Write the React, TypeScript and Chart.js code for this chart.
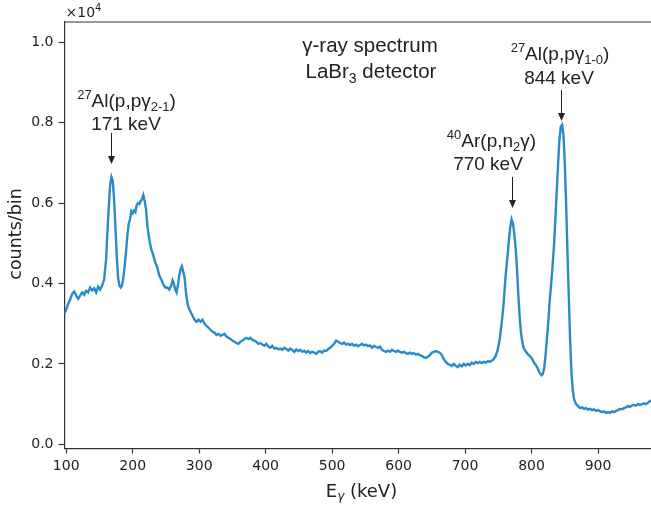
import React, { useEffect, useRef } from "react";
import { Chart, registerables } from "chart.js";

Chart.register(...registerables);

// Spectrum points: [E_gamma (keV), counts/bin (x10^4)]
const spectrum: [number, number][] = [
  [97, 0.325], [100, 0.335], [103, 0.35], [106, 0.36], [109, 0.375], [112, 0.38], [115, 0.37], [118, 0.362],
  [121, 0.37], [124, 0.378], [127, 0.372], [130, 0.382], [133, 0.378], [136, 0.39], [139, 0.383], [142, 0.388],
  [145, 0.378], [148, 0.392], [151, 0.385], [154, 0.395], [157, 0.41], [160, 0.46], [162, 0.53], [164, 0.59],
  [166, 0.645], [168, 0.665], [170, 0.655], [172, 0.61], [174, 0.54], [176, 0.47], [178, 0.415], [180, 0.395],
  [182, 0.39], [184, 0.395], [186, 0.415], [188, 0.445], [190, 0.48], [192, 0.52], [194, 0.548], [196, 0.56],
  [198, 0.58], [200, 0.575], [202, 0.582], [204, 0.578], [206, 0.595], [208, 0.6], [210, 0.598], [212, 0.605],
  [214, 0.61], [216, 0.62], [218, 0.605], [220, 0.585], [222, 0.545], [224, 0.52], [226, 0.5], [228, 0.485],
  [231, 0.47], [234, 0.452], [237, 0.44], [240, 0.42], [243, 0.41], [246, 0.398], [249, 0.39], [252, 0.39],
  [255, 0.385], [258, 0.395], [260, 0.408], [262, 0.4], [264, 0.385], [266, 0.378], [268, 0.395], [270, 0.42],
  [272, 0.435], [274, 0.443], [276, 0.43], [278, 0.415], [280, 0.38], [282, 0.355], [284, 0.34], [287, 0.33],
  [290, 0.32], [293, 0.31], [296, 0.305], [299, 0.31], [302, 0.305], [305, 0.31], [308, 0.3], [311, 0.295],
  [314, 0.29], [317, 0.285], [320, 0.28], [323, 0.278], [326, 0.272], [329, 0.275], [332, 0.27], [335, 0.272],
  [338, 0.275], [341, 0.268], [344, 0.265], [347, 0.262], [350, 0.258], [353, 0.255], [356, 0.252], [359, 0.25],
  [362, 0.255], [365, 0.258], [368, 0.262], [371, 0.265], [374, 0.262], [377, 0.265], [380, 0.26], [383, 0.258],
  [386, 0.255], [389, 0.25], [392, 0.252], [395, 0.248], [398, 0.245], [401, 0.25], [404, 0.243], [407, 0.24],
  [410, 0.245], [413, 0.238], [416, 0.24], [419, 0.236], [422, 0.238], [425, 0.235], [428, 0.24], [431, 0.237],
  [434, 0.233], [437, 0.238], [440, 0.235], [443, 0.23], [446, 0.236], [449, 0.232], [452, 0.235], [455, 0.23],
  [458, 0.233], [461, 0.228], [464, 0.232], [467, 0.227], [470, 0.23], [473, 0.228], [476, 0.225], [479, 0.23],
  [482, 0.232], [485, 0.228], [488, 0.233], [491, 0.232], [494, 0.237], [497, 0.24], [500, 0.245], [503, 0.25],
  [506, 0.258], [509, 0.255], [512, 0.252], [515, 0.25], [518, 0.253], [521, 0.248], [524, 0.25], [527, 0.247],
  [530, 0.25], [533, 0.245], [536, 0.248], [539, 0.244], [542, 0.247], [545, 0.25], [548, 0.246], [551, 0.248],
  [554, 0.244], [557, 0.246], [560, 0.24], [563, 0.245], [566, 0.242], [569, 0.24], [572, 0.243], [575, 0.235],
  [578, 0.232], [581, 0.23], [584, 0.233], [587, 0.23], [590, 0.235], [593, 0.232], [596, 0.23], [599, 0.233],
  [602, 0.23], [605, 0.228], [608, 0.23], [611, 0.227], [614, 0.225], [617, 0.228], [620, 0.225], [623, 0.227],
  [626, 0.223], [629, 0.225], [632, 0.222], [635, 0.22], [638, 0.217], [641, 0.215], [644, 0.218], [647, 0.222],
  [650, 0.228], [653, 0.23], [656, 0.232], [659, 0.23], [662, 0.228], [665, 0.222], [668, 0.212], [671, 0.205],
  [674, 0.2], [677, 0.198], [680, 0.195], [683, 0.2], [686, 0.195], [689, 0.192], [692, 0.198], [695, 0.194],
  [698, 0.2], [701, 0.196], [704, 0.2], [707, 0.197], [710, 0.203], [713, 0.2], [716, 0.205], [719, 0.202],
  [722, 0.205], [725, 0.202], [728, 0.205], [731, 0.203], [734, 0.207], [737, 0.205], [740, 0.208], [743, 0.212],
  [746, 0.22], [749, 0.235], [752, 0.26], [755, 0.3], [758, 0.35], [761, 0.42], [764, 0.47], [766, 0.51],
  [768, 0.54], [770, 0.56], [772, 0.55], [774, 0.525], [776, 0.49], [778, 0.44], [780, 0.375], [782, 0.32],
  [784, 0.28], [786, 0.255], [788, 0.24], [791, 0.232], [794, 0.225], [797, 0.22], [800, 0.215], [803, 0.205],
  [806, 0.198], [809, 0.19], [812, 0.178], [815, 0.172], [817, 0.175], [819, 0.19], [821, 0.22], [823, 0.26],
  [825, 0.3], [827, 0.35], [829, 0.39], [831, 0.43], [834, 0.5], [837, 0.6], [840, 0.7], [842, 0.76],
  [844, 0.79], [846, 0.795], [848, 0.77], [850, 0.7], [852, 0.6], [854, 0.48], [856, 0.37], [858, 0.26],
  [860, 0.18], [862, 0.135], [864, 0.112], [867, 0.1], [870, 0.095], [873, 0.09], [876, 0.092], [879, 0.088],
  [882, 0.09], [885, 0.086], [888, 0.088], [891, 0.085], [894, 0.087], [897, 0.083], [900, 0.085], [903, 0.082],
  [906, 0.08], [909, 0.082], [912, 0.078], [915, 0.08], [918, 0.078], [921, 0.082], [924, 0.08], [927, 0.083],
  [930, 0.085], [933, 0.088], [936, 0.087], [939, 0.09], [942, 0.092], [945, 0.095], [948, 0.093], [951, 0.097],
  [954, 0.098], [957, 0.096], [960, 0.1], [963, 0.098], [966, 0.1], [969, 0.102], [972, 0.1], [975, 0.103],
  [978, 0.107], [981, 0.11],
];

const xTicks = [100, 200, 300, 400, 500, 600, 700, 800, 900];
const yTicks = [0.0, 0.2, 0.4, 0.6, 0.8, 1.0];

// Energies (keV) the annotation arrows point at: 171, 770, 844 keV lines
const arrowEnergies = [168, 770, 845];

const LINE_COLOR = "#2a8bc6";
const AXIS_COLOR = "#333333";
const TICK_FONT = '"DejaVu Sans", sans-serif';
const ANN_FONT = '"Liberation Sans", Arial, Helvetica, sans-serif';

type Part = { t: string; m?: "sup" | "sub" };

function drawRich(ctx: CanvasRenderingContext2D, parts: Part[], cx: number, baseline: number, size: number, family: string) {
  const small = Math.round(size * 0.7);
  let total = 0;
  const widths: number[] = [];
  for (const p of parts) {
    ctx.font = `${p.m ? small : size}px ${family}`;
    const w = ctx.measureText(p.t).width;
    widths.push(w);
    total += w;
  }
  let x = cx - total / 2;
  ctx.textAlign = "left";
  ctx.textBaseline = "alphabetic";
  parts.forEach((p, i) => {
    ctx.font = `${p.m ? small : size}px ${family}`;
    let y = baseline;
    if (p.m === "sup") y = baseline - size * 0.4;
    if (p.m === "sub") y = baseline + size * 0.22;
    ctx.fillText(p.t, x, y);
    x += widths[i];
  });
}

function drawArrow(ctx: CanvasRenderingContext2D, x: number, y1: number, y2: number) {
  ctx.save();
  ctx.strokeStyle = "#222";
  ctx.fillStyle = "#222";
  ctx.lineWidth = 1;
  ctx.beginPath();
  ctx.moveTo(x, y1);
  ctx.lineTo(x, y2 - 7);
  ctx.stroke();
  ctx.beginPath();
  ctx.moveTo(x - 3.5, y2 - 8);
  ctx.lineTo(x + 3.5, y2 - 8);
  ctx.lineTo(x, y2);
  ctx.closePath();
  ctx.fill();
  ctx.restore();
}

const textPlugin = {
  id: "texts",
  afterDraw(chart: any) {
    const ctx: CanvasRenderingContext2D = chart.ctx;
    const area = chart.chartArea;
    const xs = chart.scales.x;
    ctx.save();
    // top spine
    ctx.strokeStyle = AXIS_COLOR;
    ctx.lineWidth = 1.2;
    ctx.beginPath();
    ctx.moveTo(area.left, area.top + 0.5);
    ctx.lineTo(area.right, area.top + 0.5);
    ctx.stroke();

    ctx.fillStyle = "#222";
    // offset text
    drawRich(ctx, [{ t: "\u00d710" }, { t: "4", m: "sup" }], 83.5, 17, 14, TICK_FONT);

    // title
    drawRich(ctx, [{ t: "\u03b3-ray spectrum" }], 370, 52, 20.5, ANN_FONT);
    drawRich(ctx, [{ t: "LaBr" }, { t: "3", m: "sub" }, { t: " detector" }], 371, 78, 20.5, ANN_FONT);

    // 171 keV
    drawRich(ctx, [{ t: "27", m: "sup" }, { t: "Al(p,p\u03b3" }, { t: "2-1", m: "sub" }, { t: ")" }], 126.5, 107, 19, ANN_FONT);
    drawRich(ctx, [{ t: "171 keV" }], 126, 130, 19, ANN_FONT);
    // 770 keV
    drawRich(ctx, [{ t: "40", m: "sup" }, { t: "Ar(p,n" }, { t: "2", m: "sub" }, { t: "\u03b3)" }], 491.5, 147, 19, ANN_FONT);
    drawRich(ctx, [{ t: "770 keV" }], 488, 170, 19, ANN_FONT);
    // 844 keV
    drawRich(ctx, [{ t: "27", m: "sup" }, { t: "Al(p,p\u03b3" }, { t: "1-0", m: "sub" }, { t: ")" }], 560, 60, 19, ANN_FONT);
    drawRich(ctx, [{ t: "844 keV" }], 559, 84, 19, ANN_FONT);

    // arrows
    const arrowSpans = [
      [133, 164],
      [177, 208],
      [90, 121],
    ];
    arrowEnergies.forEach((e, i) => {
      const px = Math.round(xs.getPixelForValue(e)) + 0.5;
      drawArrow(ctx, px, arrowSpans[i][0], arrowSpans[i][1]);
    });

    // y axis title
    ctx.fillStyle = "#222";
    ctx.save();
    ctx.translate(16.5, 234);
    ctx.rotate(-Math.PI / 2);
    ctx.font = `17.5px ${TICK_FONT}`;
    ctx.textAlign = "center";
    ctx.textBaseline = "middle";
    ctx.fillText("counts/bin", 0, 0);
    ctx.restore();

    // x title E_gamma (keV)
    const fs = 18;
    ctx.font = `${fs}px ${TICK_FONT}`;
    const wE = ctx.measureText("E").width;
    const wRest = ctx.measureText(" (keV)").width;
    ctx.font = `italic 12px ${TICK_FONT}`;
    const wG = ctx.measureText("\u03b3").width;
    const total = wE + wG + wRest;
    let x = 361.5 - total / 2;
    const base = 497;
    ctx.textAlign = "left";
    ctx.textBaseline = "alphabetic";
    ctx.font = `${fs}px ${TICK_FONT}`;
    ctx.fillText("E", x, base);
    x += wE;
    ctx.font = `italic 12px ${TICK_FONT}`;
    ctx.fillText("\u03b3", x, base + 3);
    x += wG;
    ctx.font = `${fs}px ${TICK_FONT}`;
    ctx.fillText(" (keV)", x, base);
    ctx.restore();
  },
};

export default function App() {
  const ref = useRef<HTMLCanvasElement | null>(null);
  useEffect(() => {
    if (!ref.current) return;
    const chart = new Chart(ref.current, {
      type: "line",
      data: {
        datasets: [
          {
            data: spectrum.map(([e, c]) => ({ x: e, y: c })),
            borderColor: LINE_COLOR,
            borderWidth: 2.4,
            pointRadius: 0,
            tension: 0,
            fill: false,
          },
        ],
      },
      options: {
        responsive: false,
        animation: false,
        devicePixelRatio: 1,
        layout: { padding: { top: 21.5, right: 0, left: 0, bottom: 0 } },
        plugins: { legend: { display: false }, tooltip: { enabled: false } },
        scales: {
          x: {
            type: "linear",
            min: 97.4,
            max: 979.7,
            afterBuildTicks: (s: any) => {
              s.ticks = xTicks.map((v) => ({ value: v }));
            },
            afterFit: (s: any) => {
              s.height = 56.5;
            },
            ticks: {
              font: { family: TICK_FONT, size: 14 },
              color: "#222",
              padding: 4,
              maxRotation: 0,
              autoSkip: false,
              callback: (v: any) => String(v),
            },
            grid: { drawOnChartArea: false, drawTicks: true, tickLength: 5, color: AXIS_COLOR, tickWidth: 1.2 },
            border: { display: true, color: AXIS_COLOR, width: 1.2 },
          },
          y: {
            type: "linear",
            min: -0.0105,
            max: 1.052,
            afterBuildTicks: (s: any) => {
              s.ticks = yTicks.map((v) => ({ value: v }));
            },
            afterFit: (s: any) => {
              s.width = 64.5;
            },
            ticks: {
              font: { family: TICK_FONT, size: 14 },
              color: "#222",
              padding: 5,
              autoSkip: false,
              callback: (v: any) => Number(v).toFixed(1),
            },
            grid: { drawOnChartArea: false, drawTicks: true, tickLength: 6, color: AXIS_COLOR, tickWidth: 1.2 },
            border: { display: true, color: AXIS_COLOR, width: 1.2 },
          },
        },
      },
      plugins: [textPlugin],
    } as any);
    return () => chart.destroy();
  }, []);
  return (
    <div style={{ position: "fixed", left: 0, top: 0, width: 651, height: 505, background: "#fff" }}>
      <canvas ref={ref} width={651} height={505} style={{ display: "block" }} />
    </div>
  );
}
